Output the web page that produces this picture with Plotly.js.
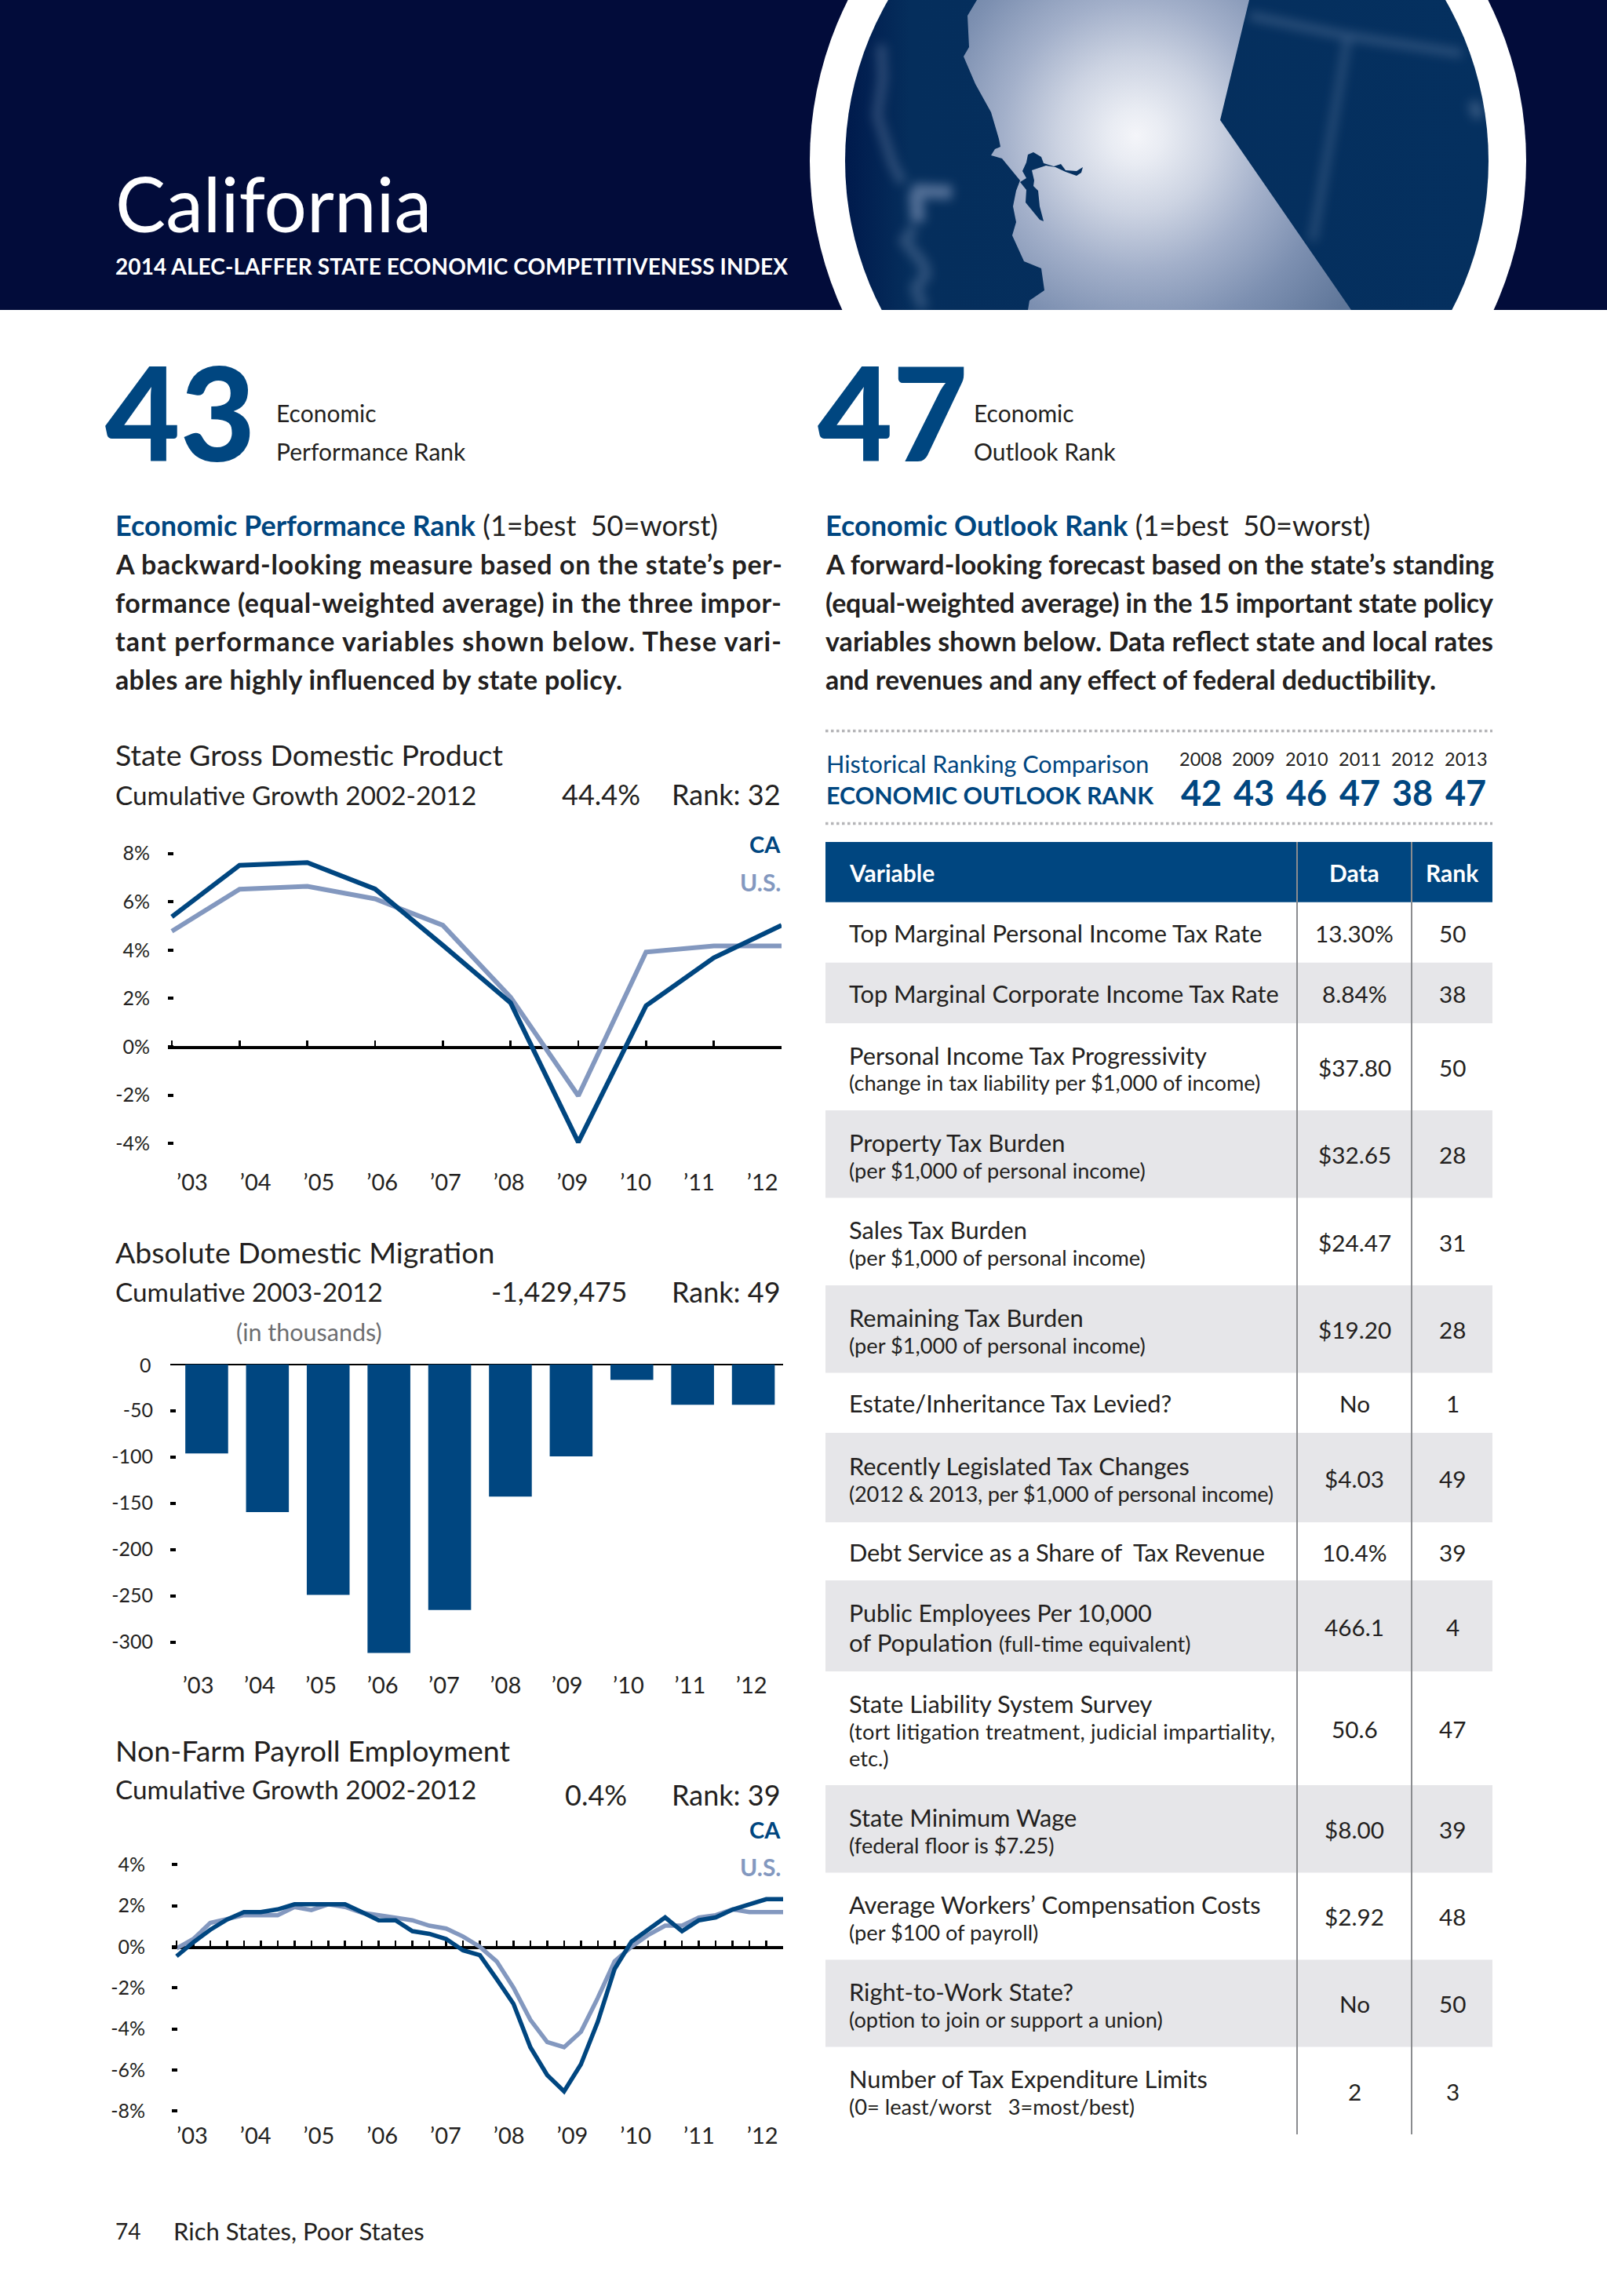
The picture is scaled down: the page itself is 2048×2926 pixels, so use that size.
<!DOCTYPE html>
<html><head><meta charset="utf-8">
<script src="https://cdn.plot.ly/plotly-3.0.1.min.js"></script>
<style>html,body{margin:0;padding:0;background:#fff}#c{width:2048px;height:2926px}</style>
</head><body><div id="c"></div>
<script>
const years = ["’03","’04","’05","’06","’07","’08","’09","’10","’11","’12"];
const gdpCA = [5.38,7.51,7.62,6.53,4.2,1.82,-3.95,1.7,3.68,5.03];
const gdpUS = [4.78,6.52,6.64,6.12,5.03,2.05,-2.03,3.92,4.17,4.17];
const gdpTicks = [8,6,4,2,0,-2,-4];
const gdpTickText = ["8%","6%","4%","2%","0%","-2%","-4%"];
const migration = [-96.2,-159.5,-249,-311.6,-265.4,-142.8,-99.5,-16.8,-43.6,-43.6];
const migTicks = [0,-50,-100,-150,-200,-250,-300];
const migTickText = ["0","-50","-100","-150","-200","-250","-300"];
const jobsCA = [-0.46,0.22,0.83,1.33,1.69,1.69,1.82,2.07,2.07,2.07,2.07,1.69,1.29,1.29,0.76,0.63,0.38,-0.17,-0.41,-1.57,-2.78,-4.89,-6.25,-7.04,-5.72,-3.65,-1.08,0.25,0.83,1.43,0.76,1.29,1.43,1.81,2.07,2.32,2.32];
const jobsUS = [-0.08,0.38,1.16,1.33,1.54,1.54,1.54,1.94,1.79,2.07,1.94,1.66,1.54,1.43,1.29,1.03,0.89,0.5,0,-0.71,-1.99,-3.56,-4.64,-4.89,-4.14,-2.49,-0.71,0,0.58,1.03,1.03,1.43,1.54,1.82,1.69,1.69,1.69];
const jobsTicks = [4,2,0,-2,-4,-6,-8];
const jobsTickText = ["4%","2%","0%","-2%","-4%","-6%","-8%"];
const histYears = ["2008","2009","2010","2011","2012","2013"];
const histRanks = ["42","43","46","47","38","47"];
const rowMain = ["Top Marginal Personal Income Tax Rate","Top Marginal Corporate Income Tax Rate","Personal Income Tax Progressivity","Property Tax Burden","Sales Tax Burden","Remaining Tax Burden","Estate/Inheritance Tax Levied?","Recently Legislated Tax Changes","Debt Service as a Share of  Tax Revenue","Public Employees Per 10,000","State Liability System Survey","State Minimum Wage","Average Workers’ Compensation Costs","Right-to-Work State?","Number of Tax Expenditure Limits"];
const rowSub = ["","","(change in tax liability per $1,000 of income)","(per $1,000 of personal income)","(per $1,000 of personal income)","(per $1,000 of personal income)","","(2012 & 2013, per $1,000 of personal income)","","","(tort litigation treatment, judicial impartiality,","(federal floor is $7.25)","(per $100 of payroll)","(option to join or support a union)","(0= least/worst   3=most/best)"];
const rowData = ["13.30%","8.84%","$37.80","$32.65","$24.47","$19.20","No","$4.03","10.4%","466.1","50.6","$8.00","$2.92","No","2"];
const rowRank = ["50","38","50","28","31","28","1","49","39","4","47","39","48","50","3"];
const leftPara = ["A backward-looking measure based on the state’s per-","formance (equal-weighted average) in the three impor-","tant performance variables shown below. These vari-","ables are highly influenced by state policy."];
const rightPara = ["A forward-looking forecast based on the state’s standing","(equal-weighted average) in the 15 important state policy","variables shown below. Data reflect state and local rates","and revenues and any effect of federal deductibility."];

const rowEdges = [1149.7,1226.7,1304,1415,1526.5,1638,1749.5,1826,1940,2014,2130,2275,2386.5,2497.4,2608.4,2720];
const NAVY="#004680", PALE="#8398bf", INK="#231f20", FONT="Lato, 'Open Sans', sans-serif";
const X=p=>p/2048, Y=p=>1-p/2926;
const ann=[], shapes=[];
function t(x,y,text,size,o={}){ann.push({xref:'paper',yref:'paper',x:X(x),y:Y(y),text,showarrow:false,xanchor:o.a||'left',yanchor:'middle',align:o.a||'left',
  font:{family:FONT,size,color:o.c||INK,weight:o.w||400},borderpad:0,_w:o.fit});}
function rect(x0,y0,x1,y1,c){shapes.push({type:'rect',xref:'paper',yref:'paper',x0:X(x0),x1:X(x1),y0:Y(y0),y1:Y(y1),fillcolor:c,line:{width:0},layer:'below'});}
function line(x0,y0,x1,y1,c,w,d){shapes.push({type:'line',xref:'paper',yref:'paper',x0:X(x0),x1:X(x1),y0:Y(y0),y1:Y(y1),line:{color:c,width:w,dash:d||'solid'},layer:'above'});}

// header
rect(0,0,2048,395,"#020c3a");
t(146,258,"California",96,{c:"#fff",w:400});
t(146,339,"2014 ALEC-LAFFER STATE ECONOMIC COMPETITIVENESS INDEX",28,{c:"#fff",w:700,fit:857});
t(133,524,"43",165,{c:NAVY,w:900});
t(1041,524,"47",165,{c:NAVY,w:900});
t(351,525.5,"Economic",30); t(351,574.5,"Performance Rank",30);
t(1240,525.5,"Economic",30); t(1240,574.5,"Outlook Rank",30);

// paragraphs
const bSize=34;
t(146,669,`<b style="color:${NAVY}">Economic Performance Rank</b> (1=best  50=worst)`,36);
t(1051,669,`<b style="color:${NAVY}">Economic Outlook Rank</b> (1=best  50=worst)`,36);
const leftFit=[849,849,849,646], rightFit=[851,851,851,778];
leftPara.forEach((s,i)=>t(146,719+i*48.7,s,bSize,{w:700,fit:leftFit[i]}));
rightPara.forEach((s,i)=>t(1051,719+i*48.7,s,bSize,{w:700,fit:rightFit[i]}));

// chart headings
t(146,961,"State Gross Domestic Product",37.5);
t(146,1012.5,"Cumulative Growth 2002-2012",33.3);
t(817,1012,"44.4%",36,{a:'right'}); t(996,1012,"Rank: 32",36,{a:'right'});
t(996,1075,"CA",29,{a:'right',c:NAVY,w:700}); t(996,1124,"U.S.",30,{a:'right',c:PALE,w:700});
t(146,1595,"Absolute Domestic Migration",37.5);
t(146,1645.5,"Cumulative 2003-2012",33.3);
t(800,1646,"-1,429,475",35.5,{a:'right'}); t(996,1646,"Rank: 49",36,{a:'right'});
t(300,1697,"(in thousands)",30.5,{c:"#6d6e71"});
t(146,2230,"Non-Farm Payroll Employment",37.5);
t(146,2279.5,"Cumulative Growth 2002-2012",33.3);
t(800,2287,"0.4%",36,{a:'right'}); t(996,2287,"Rank: 39",36,{a:'right'});
t(996,2331,"CA",29,{a:'right',c:NAVY,w:700}); t(996,2379,"U.S.",30,{a:'right',c:PALE,w:700});
t(146,2843,"74",28); t(220,2843,"Rich States, Poor States",31);

// historical block
line(1052,931.5,1902,931.5,"#b5b5b8",3.5,"dot");
line(1052,1049.5,1902,1049.5,"#b5b5b8",3.5,"dot");
t(1052,973,"Historical Ranking Comparison",30.6,{c:NAVY});
t(1052,1012.5,"ECONOMIC OUTLOOK RANK",30.4,{c:NAVY,w:700});
const hx=[1530.6,1597.6,1665,1733,1800,1868];
histYears.forEach((s,i)=>t(hx[i],967,s,23.5,{a:'center'}));
histRanks.forEach((s,i)=>t(hx[i],1010,s,45,{a:'center',c:NAVY,w:700}));

// table
rect(1052,1073,1902,1149.7,NAVY);
t(1081,1112,"Variable",30,{c:"#fff",w:700});
t(1726,1112,"Data",30,{c:"#fff",w:700,a:'center'});
t(1851,1112,"Rank",30,{c:"#fff",w:700,a:'center'});
const mainFit={8:530}, subFit={7:541,10:543};
rowMain.forEach((s,i)=>{
  const y0=rowEdges[i],y1=rowEdges[i+1],m=(y0+y1)/2;
  if(i%2===1) rect(1052,y0,1902,y1,"#e6e6e9");
  if(i===9){t(1081,m-17,s,30.3);t(1081,m+21,`of Population <span style="font-size:27px">(full-time equivalent)</span>`,31.2);}
  else if(i===10){t(1081,m-31,s,30.8);t(1081,m+4,rowSub[i],27.2,{fit:subFit[i]});t(1081,m+38,"etc.)",27.2);}
  else if(rowSub[i]){t(1081,m-14.5,s,30.8);t(1081,m+20.5,rowSub[i],27.2,{fit:subFit[i]});}
  else t(1081,m+1,s,30.8,{fit:mainFit[i]});
  t(1726,m+1,rowData[i],29.7,{a:'center'});
  t(1851,m+1,rowRank[i],29.7,{a:'center'});
});
line(1653,1073,1653,2720,"#8a8c8f",2);
line(1799,1073,1799,2720,"#8a8c8f",2);

const dom=(a,b)=>[X(a),X(b)], vdom=(top,bot)=>[Y(bot),Y(top)];
const idx=a=>a.map((_,i)=>i);
const yBase=(dm,range,tv,tx,sf)=>({domain:dm,range,tickmode:'array',tickvals:tv,ticktext:tx,showgrid:false,zeroline:false,showline:false,
  ticks:'inside',ticklen:7,tickwidth:4,tickcolor:'#000',ticklabelstandoff:sf,tickfont:{family:FONT,size:25,color:INK},fixedrange:true});
const xTicks=(dm,range,pos,n,w,tl)=>({domain:dm,range,anchor:'free',position:Y(pos),tickmode:'array',tickvals:n,showticklabels:false,showgrid:false,zeroline:false,
  showline:true,linecolor:'#000',linewidth:w,ticks:tl?'inside':'',ticklen:tl,tickwidth:2.5,tickcolor:'#000',layer:'below traces',fixedrange:true});
const xLabels=(dm,pos)=>({domain:dm,range:[-0.5,9.5],anchor:'free',position:Y(pos),tickmode:'array',tickvals:idx(years),ticktext:years,showgrid:false,zeroline:false,showline:false,ticks:'',
  tickfont:{family:FONT,size:29,color:INK},fixedrange:true});
const ln=(x,y,xa,ya,c,w,n)=>({type:'scatter',mode:'lines',x,y,xaxis:xa,yaxis:ya,name:n,line:{color:c,width:w,shape:'linear'},hoverinfo:'skip',showlegend:false});
const hidden=(xa,ya)=>({type:'scatter',mode:'lines',x:idx(years),y:years.map(()=>null),xaxis:xa,yaxis:ya,line:{width:0},hoverinfo:'skip',showlegend:false});

const traces=[
  ln(idx(gdpUS),gdpUS,'x','y',PALE,6,'U.S.'),
  ln(idx(gdpCA),gdpCA,'x','y',NAVY,6,'CA'),
  hidden('x2','y'),
  {type:'bar',x:idx(migration),y:migration,xaxis:'x3',yaxis:'y2',width:0.705,marker:{color:NAVY,line:{width:0}},hoverinfo:'skip',showlegend:false,name:'Migration'},
  hidden('x4','y2'),
  ln(idx(jobsUS),jobsUS,'x5','y3',PALE,5.5,'U.S.'),
  ln(idx(jobsCA),jobsCA,'x5','y3',NAVY,5.5,'CA'),
  hidden('x6','y3')
];

const globe=`<svg xmlns="http://www.w3.org/2000/svg" width="1000" height="395" viewBox="0 0 1000 395">
<defs>
<radialGradient id="land" gradientUnits="userSpaceOnUse" cx="448" cy="173" r="340">
<stop offset="0" stop-color="#f4f5f9"/><stop offset=".1" stop-color="#e9ecf3"/><stop offset=".29" stop-color="#ccd3e2"/><stop offset=".5" stop-color="#a3b0ca"/><stop offset=".74" stop-color="#7d90b1"/><stop offset="1" stop-color="#5f7699"/></radialGradient>
<linearGradient id="sea" x1="0" x2="1" y1="0" y2="0"><stop offset="0" stop-color="#001a4c"/><stop offset=".1" stop-color="#052e5c"/><stop offset="1" stop-color="#05305f"/></linearGradient>
<clipPath id="disc"><circle cx="487" cy="205" r="410"/></clipPath>
<filter id="b" x="-50%" y="-50%" width="200%" height="200%"><feGaussianBlur stdDeviation="6.5"/></filter>
</defs>
<circle cx="488.5" cy="205" r="456.5" fill="#fff"/>
<circle cx="487" cy="205" r="410" fill="url(#sea)"/>
<g clip-path="url(#disc)">
<g filter="url(#b)" fill="none" stroke="#8fa3c4">
<path d="M123 57 L125 100 L118 147 L137 207 L150 233" stroke-width="12" opacity=".3"/>
<path d="M163 243 L213 245 M167 243 L170 283" stroke-width="18" opacity=".55"/>
<path d="M165 290 L153 307 L177 337 L180 350 L167 367 L177 393" stroke-width="14" opacity=".3"/>
<path d="M593 20 L713 45 L863 68" stroke-width="10" opacity=".3"/>
<path d="M717 50 L703 133 L673 307" stroke-width="10" opacity=".25"/>
<path d="M877 130 L885 150" stroke-width="14" opacity=".35"/>
</g>
<polygon fill="url(#land)" points="245,0 233,20 235,60 228,72 243,107 263,143 273,177 275,187 268,190 263,198 277,202 300,230 295,243 291,263 295,283 290,300 305,333 327,342 331,370 312,383 310,395 722,395 555,153 592,0"/>
<polygon fill="#05305f" points="317,194 327,200 330,208 343,212 352,209 358,217 372,218 380,213 378,220 372,224 358,219 345,213 333,211 327,213 315,217 318,230 317,237 323,243 325,263 330,282 325,280 307,258 308,242 300,232 308,227 303,218 308,207 310,197"/>
</g></svg>`;

const layout={width:2048,height:2926,margin:{l:0,r:0,t:0,b:0},autosize:false,paper_bgcolor:'#fff',plot_bgcolor:'rgba(0,0,0,0)',showlegend:false,
  font:{family:FONT,color:INK},barmode:'overlay',annotations:ann,shapes,
  images:[{source:'data:image/svg+xml;charset=utf-8,'+encodeURIComponent(globe),xref:'paper',yref:'paper',x:X(1000),y:1,sizex:1000/2048,sizey:395/2926,sizing:'stretch',xanchor:'left',yanchor:'top',layer:'above'}],
  xaxis:xTicks(dom(214,996),[-5/86.4,9],1334,idx(years),3.5,7),
  xaxis2:xLabels(dom(204.65,1012),1487),
  yaxis:Object.assign(yBase(vdom(1072.2,1472.6),[-4.5,8.5],gdpTicks,gdpTickText,22),{anchor:'x'}),
  xaxis3:xTicks(dom(217,998),[-0.6,9.49],1738.7,[],2.5,0),
  xaxis4:xLabels(dom(213.4,996.9),2128),
  yaxis2:Object.assign(yBase(vdom(1738.7,2116.3),[-320,0],migTicks.slice(1),migTickText.slice(1),21),{anchor:'x3'}),
  xaxis5:xTicks(dom(219,998),[-6/21.47,36],2481,idx(jobsCA),3.5,7),
  xaxis6:xLabels(dom(204.65,1012),2702),
  yaxis3:Object.assign(yBase(vdom(2360.6,2706),[-8.6,4.6],jobsTicks,jobsTickText,33),{anchor:'x5'})
};
t(194,1738.7,"0",25,{a:'right'});
Plotly.newPlot('c',traces,layout,{staticPlot:true,displayModeBar:false}).then(()=>{
  document.querySelectorAll('g.annotation').forEach(g=>{
    const a=ann[+g.getAttribute('data-index')]; if(!a||!a._w) return;
    const el=g.querySelector('text'); if(el) el.setAttribute('textLength',a._w);
  });
});
</script></body></html>
